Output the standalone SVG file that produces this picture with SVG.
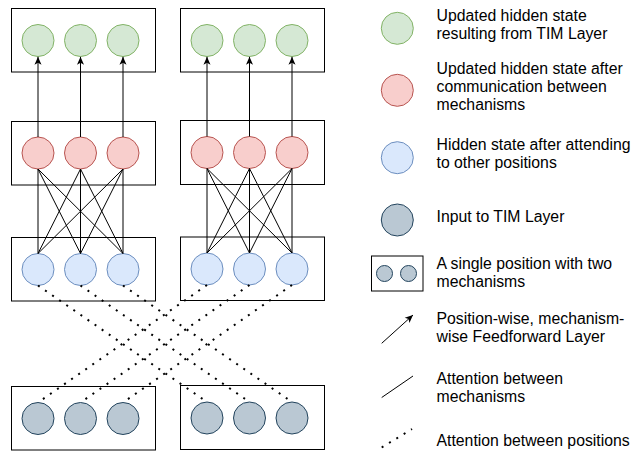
<svg xmlns="http://www.w3.org/2000/svg" width="633" height="451" viewBox="0 0 633 451">
<style>
.box{fill:#ffffff;stroke:#000000;stroke-width:1}
.g{fill:#d5e8d4;stroke:#82b366;stroke-width:1}
.r{fill:#f8cecc;stroke:#b85450;stroke-width:1}
.b{fill:#dae8fc;stroke:#6c8ebf;stroke-width:1}
.k{fill:#bac8d3;stroke:#23445d;stroke-width:1}
.ln{stroke:#000000;stroke-width:1;fill:none}
.ar{stroke:#000000;stroke-width:1;fill:none;marker-end:url(#arr)}
.dt{stroke:#000000;stroke-width:2;fill:none;stroke-dasharray:2 6.6}
text{font-family:"Liberation Sans",Arial,Helvetica,sans-serif;font-size:15.8px;fill:#000000}
</style>
<defs>
<marker id="arr" markerUnits="userSpaceOnUse" viewBox="0 0 10 10" markerWidth="8" markerHeight="8" refX="10" refY="5" orient="auto">
<path d="M0,0.6 L10,5 L0,9.4 L2.6,5 Z" fill="#000000"/>
</marker>
</defs>
<rect width="633" height="451" fill="#ffffff"/>

<g id="pos-top-left">
<rect class="box" x="11.5" y="8.5" width="144" height="63.5"/>
<g id="tl-m1"><circle class="g" cx="38" cy="40.5" r="16"/></g>
<g id="tl-m2"><circle class="g" cx="80.5" cy="40.5" r="16"/></g>
<g id="tl-m3"><circle class="g" cx="123" cy="40.5" r="16"/></g>
</g>
<g id="pos-top-right">
<rect class="box" x="180.5" y="8.5" width="144" height="63.5"/>
<g id="tr-m1"><circle class="g" cx="207" cy="40.5" r="16"/></g>
<g id="tr-m2"><circle class="g" cx="249.5" cy="40.5" r="16"/></g>
<g id="tr-m3"><circle class="g" cx="292" cy="40.5" r="16"/></g>
</g>
<g id="pos-red-left">
<rect class="box" x="11.5" y="121.5" width="144" height="63.5"/>
<g id="rl-m1"><circle class="r" cx="38" cy="153" r="16"/></g>
<g id="rl-m2"><circle class="r" cx="80.5" cy="153" r="16"/></g>
<g id="rl-m3"><circle class="r" cx="123" cy="153" r="16"/></g>
</g>
<g id="pos-red-right">
<rect class="box" x="180.5" y="120.5" width="144" height="64"/>
<g id="rr-m1"><circle class="r" cx="207" cy="152.5" r="16"/></g>
<g id="rr-m2"><circle class="r" cx="249.5" cy="152.5" r="16"/></g>
<g id="rr-m3"><circle class="r" cx="292" cy="152.5" r="16"/></g>
</g>
<g id="pos-blue-left">
<rect class="box" x="11.5" y="237.5" width="144" height="63.5"/>
<g id="bl-m1"><circle class="b" cx="38" cy="269.5" r="16"/></g>
<g id="bl-m2"><circle class="b" cx="80.5" cy="269.5" r="16"/></g>
<g id="bl-m3"><circle class="b" cx="123" cy="269.5" r="16"/></g>
</g>
<g id="pos-blue-right">
<rect class="box" x="180.5" y="237" width="144" height="63.5"/>
<g id="br-m1"><circle class="b" cx="207" cy="269" r="16"/></g>
<g id="br-m2"><circle class="b" cx="249.5" cy="269" r="16"/></g>
<g id="br-m3"><circle class="b" cx="292" cy="269" r="16"/></g>
</g>
<g id="pos-input-left">
<rect class="box" x="11.5" y="386.5" width="144" height="63.5"/>
<g id="il-m1"><circle class="k" cx="38" cy="418.5" r="16"/></g>
<g id="il-m2"><circle class="k" cx="80.5" cy="418.5" r="16"/></g>
<g id="il-m3"><circle class="k" cx="123" cy="418.5" r="16"/></g>
</g>
<g id="pos-input-right">
<rect class="box" x="180.5" y="385.5" width="144" height="64"/>
<g id="ir-m1"><circle class="k" cx="207" cy="418" r="16"/></g>
<g id="ir-m2"><circle class="k" cx="249.5" cy="418" r="16"/></g>
<g id="ir-m3"><circle class="k" cx="292" cy="418" r="16"/></g>
</g>

<g id="connectors">
<line class="ar" x1="38" y1="137" x2="38" y2="56.8"/>
<line class="ar" x1="80.5" y1="137" x2="80.5" y2="56.8"/>
<line class="ar" x1="123" y1="137" x2="123" y2="56.8"/>
<line class="ar" x1="207" y1="136.5" x2="207" y2="56.8"/>
<line class="ar" x1="249.5" y1="136.5" x2="249.5" y2="56.8"/>
<line class="ar" x1="292" y1="136.5" x2="292" y2="56.8"/>
<path class="ln" d="M38,169 L38,253.5 M38,169 L80.5,253.5 M38,169 L123,253.5 M80.5,169 L38,253.5 M80.5,169 L80.5,253.5 M80.5,169 L123,253.5 M123,169 L38,253.5 M123,169 L80.5,253.5 M123,169 L123,253.5"/>
<path class="ln" d="M207,168.5 L207,253 M207,168.5 L249.5,253 M207,168.5 L292,253 M249.5,168.5 L207,253 M249.5,168.5 L249.5,253 M249.5,168.5 L292,253 M292,168.5 L207,253 M292,168.5 L249.5,253 M292,168.5 L292,253"/>
<line class="dt" x1="38" y1="285.5" x2="207" y2="402"/>
<line class="dt" x1="80.5" y1="285.5" x2="249.5" y2="402"/>
<line class="dt" x1="123" y1="285.5" x2="292" y2="402"/>
<line class="dt" x1="207" y1="285" x2="38" y2="402.5"/>
<line class="dt" x1="249.5" y1="285" x2="80.5" y2="402.5"/>
<line class="dt" x1="292" y1="285" x2="123" y2="402.5"/>
</g>

<g id="legend">
<g id="leg-green">
<circle class="g" cx="397.3" cy="28.3" r="16"/>
<text x="436.5" y="20.5">Updated hidden state</text>
<text x="436.5" y="38.5">resulting from TIM Layer</text>
</g>
<g id="leg-red">
<circle class="r" cx="397.3" cy="90.3" r="16"/>
<text x="436.5" y="74">Updated hidden state after</text>
<text x="436.5" y="92">communication between</text>
<text x="436.5" y="110">mechanisms</text>
</g>
<g id="leg-blue">
<circle class="b" cx="397.3" cy="157.7" r="16"/>
<text x="436.5" y="150">Hidden state after attending</text>
<text x="436.5" y="168">to other positions</text>
</g>
<g id="leg-gray">
<circle class="k" cx="397.3" cy="220" r="16"/>
<text x="436.5" y="222">Input to TIM Layer</text>
</g>
<g id="leg-position">
<rect class="box" x="371.5" y="256" width="51.5" height="35"/>
<circle class="k" cx="384.5" cy="273.5" r="8"/>
<circle class="k" cx="408.5" cy="273.5" r="8"/>
<text x="436.5" y="269">A single position with two</text>
<text x="436.5" y="287">mechanisms</text>
</g>
<g id="leg-ff">
<line class="ar" x1="381.7" y1="343.3" x2="413" y2="315"/>
<text x="436.5" y="324">Position-wise, mechanism-</text>
<text x="436.5" y="342">wise Feedforward Layer</text>
</g>
<g id="leg-mech">
<line class="ln" x1="381.7" y1="397.5" x2="413" y2="376"/>
<text x="436.5" y="384">Attention between</text>
<text x="436.5" y="402">mechanisms</text>
</g>
<g id="leg-pos">
<line class="dt" x1="381.7" y1="447.5" x2="412" y2="429"/>
<text x="436.5" y="446">Attention between positions</text>
</g>
</g>
</svg>
